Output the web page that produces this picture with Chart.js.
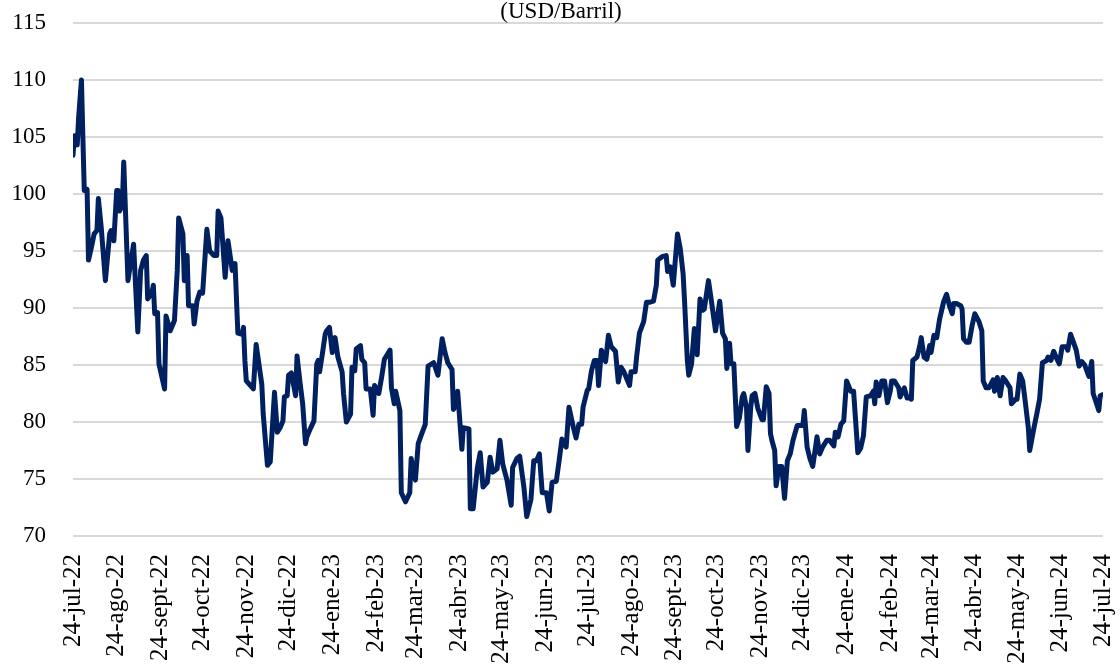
<!DOCTYPE html>
<html>
<head>
<meta charset="utf-8">
<script src="https://cdn.jsdelivr.net/npm/chart.js@4/dist/chart.umd.min.js"></script>
<style>
  html, body { margin: 0; padding: 0; background: #ffffff; }
  #wrap { width: 1120px; height: 664px; }
</style>
</head>
<body>
<div id="wrap"><canvas id="c" width="1120" height="664"></canvas></div>
<script>
// Days elapsed since 24-jul-22 for each reading
const days = [
  0, 1, 3, 4, 6, 7, 8, 10, 11, 13, 15, 17, 18, 20, 23, 26, 27, 29, 31, 32,
  33, 35, 36, 39, 43, 46, 48, 50, 52, 53, 56, 57, 58, 60, 61, 65, 66, 69, 72, 74,
  75, 78, 79, 81, 82, 85, 86, 88, 90, 92, 95, 97, 100, 102, 103, 105, 108, 110, 113, 115,
  117, 120, 121, 122, 123, 128, 130, 134, 135, 138, 140, 143, 145, 147, 149, 150, 152, 153, 155, 158,
  159, 161, 163, 165, 166, 168, 171, 173, 174,
  175, 177, 179, 180, 182, 184, 186, 188, 191, 192, 194, 197, 198, 200, 201, 204, 205, 207, 208, 211,
  213, 214, 217, 219, 221, 225, 226, 228, 229, 232, 233, 236, 239, 240, 243, 245, 247, 250, 252, 256,
  259, 262, 264, 266, 269, 270, 272, 273, 276, 277, 281, 282, 284, 287, 289, 291, 294, 296, 298, 301,
  303, 305, 308, 311, 312, 315, 317, 320, 322, 325, 327, 329, 331, 333, 336, 338, 340, 343, 345, 347,
  350,
  352, 355, 357, 359, 361, 362, 365, 366, 368, 370, 372, 373, 375, 378, 380, 382, 385, 387, 389, 391,
  392, 395, 396, 399, 400, 402, 405, 407, 409, 412, 414, 415, 418, 421, 422, 424, 426, 429, 431, 433,
  434, 436, 437, 439, 441, 443, 445, 447, 448, 451, 453, 456, 457, 459, 461, 463, 464, 466, 467, 469,
  471, 473, 475, 476, 478, 479, 481, 482, 484, 486, 489, 490, 492, 494, 495, 496, 498, 499, 501, 503,
  505, 507, 509, 511, 514, 516, 518, 519, 521, 523, 525, 527, 528, 530, 532, 535, 537,
  540, 541, 543, 545, 547, 549, 552, 554, 557, 559, 561, 563, 566, 568, 569, 570, 572, 574, 576, 578,
  580, 581, 583, 586, 587, 590, 592, 594, 595, 596, 599, 601, 602, 604, 606, 608, 609, 611, 613, 615,
  618, 620, 622, 624, 625, 627, 630, 631, 632, 634, 636, 638, 640, 643, 645, 646, 648, 650, 653, 654,
  656, 658, 660, 662, 665, 666, 669, 670, 672, 674, 676, 678, 679, 682, 684, 686, 688, 691, 692, 694,
  696, 698, 700, 702, 705, 706, 708, 710, 712, 714, 716, 718, 721, 723, 724, 727, 728, 729, 731
];

// Brent price, USD per barrel
const brent = [
  103.4, 105.1, 104.3, 106.7, 110.0, 105.0, 100.3, 100.4, 94.2, 95.3, 96.5, 96.8, 99.6, 97.1, 92.4, 96.5, 96.8, 95.9, 100.3, 100.3,
  98.5, 99.0, 102.8, 92.4, 95.6, 87.9, 93.3, 94.2, 94.6, 90.8, 91.3, 92.0, 89.5, 89.6, 85.1, 82.9, 89.3, 88.0, 88.9, 93.3,
  97.9, 96.5, 92.4, 94.6, 90.2, 90.2, 88.6, 90.6, 91.4, 91.3, 96.9, 95.0, 94.6, 94.6, 98.5, 97.9, 92.7, 95.9, 93.3, 93.9,
  87.8, 87.7, 88.3, 85.4, 83.6, 82.9, 86.8, 83.3, 80.7, 76.2, 76.5, 82.6, 79.1, 79.5, 80.1, 82.2, 82.3, 84.1, 84.3, 82.3,
  85.8, 83.6, 81.6, 78.1, 78.7, 79.3, 80.1, 85.1, 85.4,
  84.4, 86.0, 87.7, 88.0, 88.3, 86.1, 87.4, 85.7, 84.4, 82.5, 80.0, 80.7, 84.8, 84.5, 86.4, 86.7, 85.5, 85.2, 82.9, 82.9,
  80.6, 83.2, 82.5, 83.9, 85.5, 86.3, 83.0, 81.6, 82.7, 81.0, 73.8, 73.0, 73.8, 76.8, 74.9, 78.1, 78.8, 79.8, 84.9, 85.2,
  84.1, 87.3, 86.1, 85.2, 84.6, 81.1, 81.6, 82.7, 77.6, 79.5, 79.4, 72.4, 72.4, 76.0, 77.3, 74.3, 74.7, 76.9, 75.6, 75.9,
  78.4, 76.3, 74.9, 72.7, 76.0, 76.8, 77.0, 74.3, 71.7, 73.2, 76.6, 76.6, 77.2, 73.8, 73.8, 72.2, 74.7, 74.8, 76.6, 78.5,
  77.8,
  81.3, 79.6, 78.6, 79.8, 79.8, 81.3, 82.8, 82.9, 84.5, 85.4, 85.4, 83.2, 86.3, 85.3, 87.6, 86.6, 86.2, 83.5, 84.8, 84.4,
  84.1, 83.2, 84.4, 84.4, 85.7, 87.8, 88.8, 90.5, 90.5, 90.6, 92.0, 94.2, 94.5, 94.6, 93.2, 93.6, 92.0, 96.5, 95.2, 93.0,
  90.7, 85.4, 84.1, 85.1, 88.2, 85.9, 90.8, 89.8, 89.9, 92.4, 90.7, 88.0, 88.9, 90.6, 87.8, 87.3, 84.7, 86.9, 85.1, 85.1,
  79.6, 80.4, 82.2, 82.5, 81.3, 77.5, 81.3, 82.3, 82.5, 81.2, 80.2, 80.2, 83.1, 82.5, 79.0, 78.4, 77.5, 74.4, 76.1, 76.1,
  73.3, 76.6, 77.2, 78.4, 79.7, 79.7, 79.7, 81.0, 77.8, 76.8, 76.1, 77.8, 78.7, 77.2, 77.8, 78.4, 78.4,
  77.9, 79.1, 78.7, 79.8, 80.1, 83.6, 82.7, 82.7, 77.3, 77.7, 78.8, 82.2, 82.3, 82.7, 81.6, 83.5, 82.3, 83.6, 83.6, 81.7,
  82.7, 83.6, 83.6, 83.0, 82.2, 83.0, 82.1, 82.1, 82.0, 85.4, 85.7, 86.7, 87.4, 85.7, 85.5, 86.7, 86.1, 87.6, 87.4, 89.0,
  90.6, 91.2, 90.2, 89.5, 90.4, 90.4, 90.2, 89.9, 87.3, 87.0, 87.0, 88.4, 89.5, 88.8, 88.0, 83.6, 83.0, 83.0, 83.7, 82.7,
  83.9, 82.3, 83.9, 83.6, 83.0, 81.6, 82.0, 82.0, 84.2, 83.6, 81.6, 79.5, 77.5, 79.5, 80.7, 82.0, 85.2, 85.4, 85.7, 85.4,
  86.2, 85.6, 85.1, 86.6, 86.6, 86.3, 87.7, 87.0, 86.3, 84.9, 85.3, 85.0, 84.0, 85.3, 82.5, 81.4, 81.0, 82.3, 82.4
];

// Monthly axis labels
const tickLabels = [
  '24-jul-22', '24-ago-22', '24-sept-22', '24-oct-22', '24-nov-22', '24-dic-22',
  '24-ene-23', '24-feb-23', '24-mar-23', '24-abr-23', '24-may-23', '24-jun-23',
  '24-jul-23', '24-ago-23', '24-sept-23', '24-oct-23', '24-nov-23', '24-dic-23',
  '24-ene-24', '24-feb-24', '24-mar-24', '24-abr-24', '24-may-24', '24-jun-24',
  '24-jul-24'
];

const yTicks = [70, 75, 80, 85, 90, 95, 100, 105, 110, 115];
const titleText = '(USD/Barril)';

// tick positions: day offset of the 24th of each month from 24-jul-22
const startUTC = Date.UTC(2022, 6, 24);
const tickDays = tickLabels.map((_, i) =>
  Math.round((Date.UTC(2022, 6 + i, 24) - startUTC) / 86400000));

const points = days.map((d, i) => ({ x: d, y: brent[i] }));
const FONT = "'Liberation Serif', 'Times New Roman', serif";

new Chart(document.getElementById('c'), {
  type: 'line',
  data: {
    datasets: [{
      data: points,
      borderColor: '#002060',
      backgroundColor: '#002060',
      borderWidth: 5,
      pointRadius: 0,
      tension: 0,
      borderJoinStyle: 'round',
      borderCapStyle: 'round',
      fill: false
    }]
  },
  options: {
    responsive: false,
    animation: false,
    devicePixelRatio: 1,
    layout: { padding: { left: 8, right: 6, top: 0, bottom: 0 } },
    plugins: {
      legend: { display: false },
      tooltip: { enabled: false },
      title: {
        display: true,
        text: titleText,
        color: '#000000',
        font: { family: FONT, size: 23, weight: 'normal', lineHeight: 1.2 },
        padding: { top: -1.5, bottom: -3.1 }
      }
    },
    scales: {
      x: {
        type: 'linear',
        min: 0,
        max: tickDays[tickDays.length - 1],
        afterBuildTicks: (axis) => { axis.ticks = tickDays.map(v => ({ value: v })); },
        afterFit: (s) => { s.paddingLeft = 0; s.paddingRight = 17; s.height = 128; },
        grid: { display: false },
        border: { display: false },
        ticks: {
          autoSkip: false,
          maxRotation: 90,
          minRotation: 90,
          padding: 10,
          color: '#000000',
          font: { family: FONT, size: 25 },
          callback: (value, index) => tickLabels[index]
        }
      },
      y: {
        min: yTicks[0],
        max: yTicks[yTicks.length - 1],
        afterBuildTicks: (axis) => { axis.ticks = yTicks.map(v => ({ value: v })); },
        afterFit: (s) => { s.paddingTop = 0; s.paddingBottom = 0; s.width = 65; },
        grid: { color: '#d9d9d9', lineWidth: 2, drawTicks: false },
        border: { display: false },
        ticks: {
          padding: 27,
          color: '#000000',
          font: { family: FONT, size: 23 },
          callback: (value) => String(value)
        }
      }
    }
  }
});
</script>
</body>
</html>
